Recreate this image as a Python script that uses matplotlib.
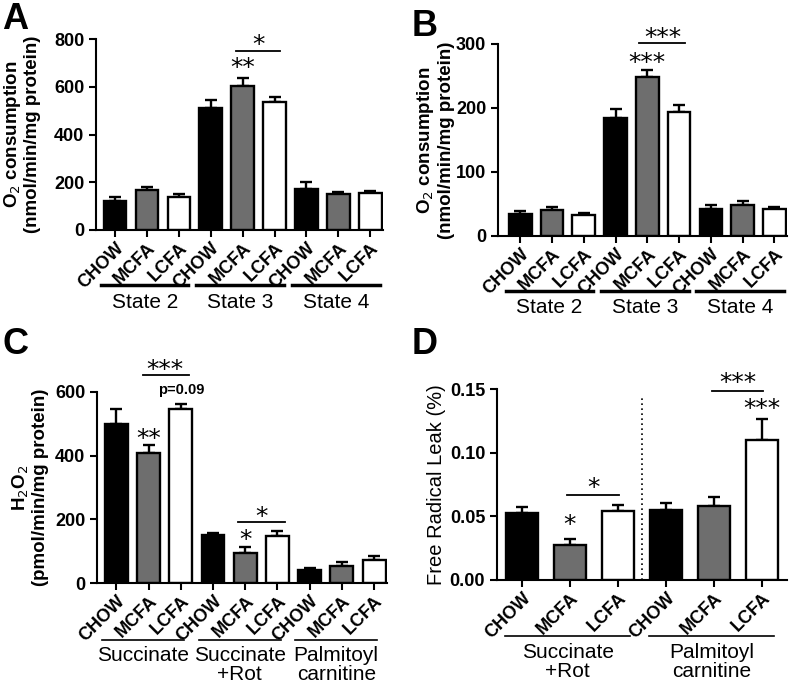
import numpy as np
import matplotlib
matplotlib.use("Agg")
import matplotlib.pyplot as plt

plt.rcParams["font.family"] = ["Liberation Sans", "DejaVu Sans"]

diets = ["CHOW", "MCFA", "LCFA"]
colors = ["black", "#6e6e6e", "white"]

# panel A: O2 consumption (State 2, 3, 4)
a_states = ["State 2", "State 3", "State 4"]
a_mean = [123, 168, 140, 513, 603, 536, 172, 152, 154]
a_err = [16, 13, 9, 32, 33, 19, 31, 9, 11]

# panel B
b_states = ["State 2", "State 3", "State 4"]
b_mean = [35, 40.5, 33.5, 185, 248, 194, 42, 48.5, 42]
b_err = [4, 4.5, 2, 14, 11, 11, 7, 5.5, 3.5]

# panel C: H2O2
c_groups = ["Succinate", "Succinate\n+Rot", "Palmitoyl\ncarnitine"]
c_mean = [500, 407, 547, 150, 95, 149, 42, 52, 71]
c_err = [46, 28, 16, 8, 17, 14, 6, 13, 13]

# panel D: free radical leak
d_groups = ["Succinate\n+Rot", "Palmitoyl\ncarnitine"]
d_mean = [0.0524, 0.0277, 0.0545, 0.055, 0.0584, 0.110]
d_err = [0.0046, 0.0045, 0.0041, 0.0055, 0.0066, 0.0167]

W, H = 794, 690


def px_axes(fig, left, top, right, bottom):
    return fig.add_axes([left / W, (H - bottom) / H, (right - left) / W, (bottom - top) / H])


def bar_panel(ax, means, errs, width=0.71):
    x = np.arange(len(means))
    cols = [colors[i % 3] for i in range(len(means))]
    ax.bar(x, means, width=width, color=cols, edgecolor="black", linewidth=1.7, zorder=2)
    ax.errorbar(x, means, yerr=[np.zeros(len(errs)), errs], fmt="none", ecolor="black",
                elinewidth=1.7, capsize=4, capthick=1.7, zorder=1)
    ax.set_xticks(x)
    ax.set_xticklabels([diets[i % 3] for i in range(len(means))], rotation=45, ha="right",
                       rotation_mode="anchor", fontsize=10, fontweight="bold")
    for s in ["top", "right"]:
        ax.spines[s].set_visible(False)
    for s in ["left", "bottom"]:
        ax.spines[s].set_linewidth(1.5)
    ax.tick_params(width=1.5, length=5, labelsize=13)
    ax.tick_params(axis="x", pad=2)
    for lab in ax.get_yticklabels():
        lab.set_fontweight("bold")


def group_lines(ax, names, size, y_line, y_text, x0, x1, lw):
    tr = ax.get_xaxis_transform()
    for g, name in enumerate(names):
        a, b = g * size + x0, g * size + x1
        ax.plot([a, b], [y_line, y_line], color="black", lw=lw, transform=tr, clip_on=False)
        ax.text((a + b) / 2, y_text, name, transform=tr, ha="center", va="top",
                fontsize=15, linespacing=1.0)


def sig_line(ax, x0, x1, y):
    ax.plot([x0, x1], [y, y], color="black", lw=1.3, clip_on=False)


def stars(ax, x, y, s, size=18):
    ax.text(x, y, s, ha="center", va="center", fontsize=size, family="DejaVu Sans")


fig = plt.figure(figsize=(W / 100, H / 100), dpi=100)

# A
ax = px_axes(fig, 96, 39, 383, 230)
bar_panel(ax, a_mean, a_err)
ax.set_xlim(-0.6, 8.4)
ax.set_ylim(0, 800)
ax.set_yticks([0, 200, 400, 600, 800])
ax.set_ylabel("O$_2$ consumption\n(nmol/min/mg protein)", fontsize=13.5, fontweight="bold",
              linespacing=1.1)
ax.yaxis.set_label_coords(-0.19, 0.5)
group_lines(ax, a_states, 3, -0.288, -0.33, -0.45, 2.3, 2.5)
sig_line(ax, 3.78, 5.17, 748)
stars(ax, 4.5, 775, "*")
stars(ax, 4.0, 678, "**")

# B
ax = px_axes(fig, 498, 44, 787, 236)
bar_panel(ax, b_mean, b_err)
ax.set_xlim(-0.7, 8.4)
ax.set_ylim(0, 300)
ax.set_yticks([0, 100, 200, 300])
ax.set_ylabel("O$_2$ consumption\n(nmol/min/mg protein)", fontsize=13.5, fontweight="bold",
              linespacing=1.1)
ax.yaxis.set_label_coords(-0.15, 0.5)
group_lines(ax, b_states, 3, -0.286, -0.325, -0.45, 2.3, 2.5)
sig_line(ax, 3.74, 5.19, 302)
stars(ax, 4.5, 310, "***")
stars(ax, 4.0, 270, "***")

# C
ax = px_axes(fig, 97, 392, 387, 583)
bar_panel(ax, c_mean, c_err)
ax.set_xlim(-0.6, 8.4)
ax.set_ylim(0, 600)
ax.set_yticks([0, 200, 400, 600])
ax.set_ylabel("H$_2$O$_2$\n(pmol/min/mg protein)", fontsize=13.5, fontweight="bold",
              linespacing=1.1)
ax.yaxis.set_label_coords(-0.165, 0.5)
group_lines(ax, c_groups, 3, -0.298, -0.33, -0.45, 2.1, 1.2)
sig_line(ax, 0.84, 2.25, 652)
stars(ax, 1.5, 670, "***")
ax.text(2.0, 606, "p=0.09", ha="center", va="center", fontsize=10.5, fontweight="bold")
stars(ax, 1.0, 452, "**")
sig_line(ax, 3.79, 5.23, 192)
stars(ax, 4.5, 207, "*")
stars(ax, 4.0, 135, "*")

# D
ax = px_axes(fig, 497, 389, 787, 580)
bar_panel(ax, d_mean, d_err, width=0.67)
ax.set_xlim(-0.52, 5.52)
ax.set_ylim(0, 0.15)
ax.set_yticks([0, 0.05, 0.10, 0.15])
ax.set_yticklabels(["0.00", "0.05", "0.10", "0.15"], fontweight="bold")
ax.set_ylabel("Free Radical Leak (%)", fontsize=14.5)
ax.yaxis.set_label_coords(-0.175, 0.5)
ax.axvline(2.5, ymax=0.97, color="black", lw=1.2, ls=(0, (1, 2)))
group_lines(ax, d_groups, 3, -0.293, -0.33, -0.35, 2.25, 1.2)
sig_line(ax, 0.94, 2.02, 0.0668)
stars(ax, 1.5, 0.072, "*")
stars(ax, 1.0, 0.043, "*")
sig_line(ax, 3.96, 5.02, 0.1487)
stars(ax, 4.5, 0.155, "***")
stars(ax, 5.0, 0.134, "***")

for lbl, (x, y) in zip("ABCD", [(2, 29), (412, 36), (2, 354), (412, 354)]):
    fig.text(x / W, (H - y) / H, lbl, fontsize=26, fontweight="bold", ha="left", va="baseline")

fig.savefig("out.png", dpi=100)
